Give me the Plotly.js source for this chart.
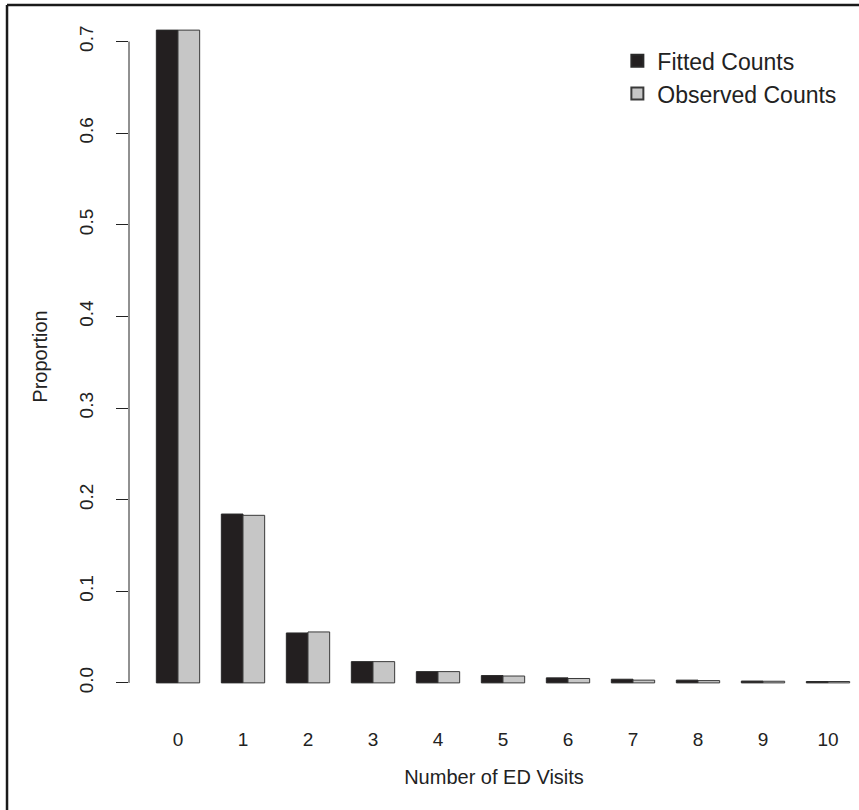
<!DOCTYPE html>
<html>
<head>
<meta charset="utf-8">
<script src="https://cdn.plot.ly/plotly-3.0.1.min.js"></script>
<style>html,body{margin:0;padding:0;background:#fff;}#chart{width:859px;height:810px;}</style>
</head>
<body>
<div id="chart"></div>
<script>
const visits = [0, 1, 2, 3, 4, 5, 6, 7, 8, 9, 10];
const fittedCounts = [0.7125, 0.1843, 0.0545, 0.0232, 0.0123, 0.0080, 0.0055, 0.0040, 0.0030, 0.0020, 0.0015];
const observedCounts = [0.7125, 0.1829, 0.0556, 0.0232, 0.0123, 0.0075, 0.0048, 0.0030, 0.0025, 0.0018, 0.0015];
const yTicks = [0.0, 0.1, 0.2, 0.3, 0.4, 0.5, 0.6, 0.7];
const yTickText = ['0.0', '0.1', '0.2', '0.3', '0.4', '0.5', '0.6', '0.7'];

const font = 'Liberation Sans, Arial, Helvetica, sans-serif';
const ink = '#222222';

const traces = [
  {
    type: 'bar', name: 'Fitted Counts', x: visits, y: fittedCounts,
    marker: {color: '#231f20', line: {color: '#2a2a2a', width: 1}}
  },
  {
    type: 'bar', name: 'Observed Counts', x: visits, y: observedCounts,
    marker: {color: '#c6c6c6', line: {color: '#3a3a3a', width: 1}}
  }
];

const layout = {
  width: 859, height: 810,
  margin: {l: 129, r: 0, t: 4, b: 101},
  paper_bgcolor: '#ffffff', plot_bgcolor: '#ffffff',
  font: {family: font, color: ink, size: 19},
  barmode: 'group', bargap: 1/3, bargroupgap: 0,
  showlegend: true,
  legend: {
    x: 0.669, y: 0.95, xanchor: 'left', yanchor: 'top',
    font: {size: 23, family: font, color: ink},
    bgcolor: 'rgba(0,0,0,0)', tracegroupgap: 0, itemsizing: 'constant'
  },
  xaxis: {
    range: [-0.7538, 10.477],
    tickmode: 'array', tickvals: visits, ticktext: visits.map(String),
    showline: false, showgrid: false, zeroline: false, ticks: '',
    ticklabelstandoff: 17,
    tickfont: {size: 19},
    title: {text: 'Number of ED Visits', font: {size: 20}, standoff: 20}
  },
  yaxis: {
    range: [-0.0285, 0.741],
    tickmode: 'array', tickvals: yTicks, ticktext: yTickText,
    tickangle: -90, ticks: 'outside', ticklen: 12, tickwidth: 1, tickcolor: ink,
    showline: false, showgrid: false, zeroline: false,
    ticklabelstandoff: 15,
    tickfont: {size: 19},
    title: {text: 'Proportion', font: {size: 20}, standoff: 23}
  },
  shapes: [
    {type: 'line', xref: 'paper', yref: 'y', x0: 0, x1: 0, y0: 0, y1: 0.7, line: {color: ink, width: 1}},
    {type: 'line', xref: 'paper', yref: 'paper', x0: -0.1671, x1: 1.01, y0: 0.99858, y1: 0.99858, line: {color: '#1a1a1a', width: 2.5}},
    {type: 'line', xref: 'paper', yref: 'paper', x0: -0.1671, x1: -0.1671, y0: 0.99858, y1: -0.15, line: {color: '#1a1a1a', width: 2.5}}
  ]
};

Plotly.newPlot('chart', traces, layout, {displayModeBar: false, staticPlot: true});
</script>
</body>
</html>
